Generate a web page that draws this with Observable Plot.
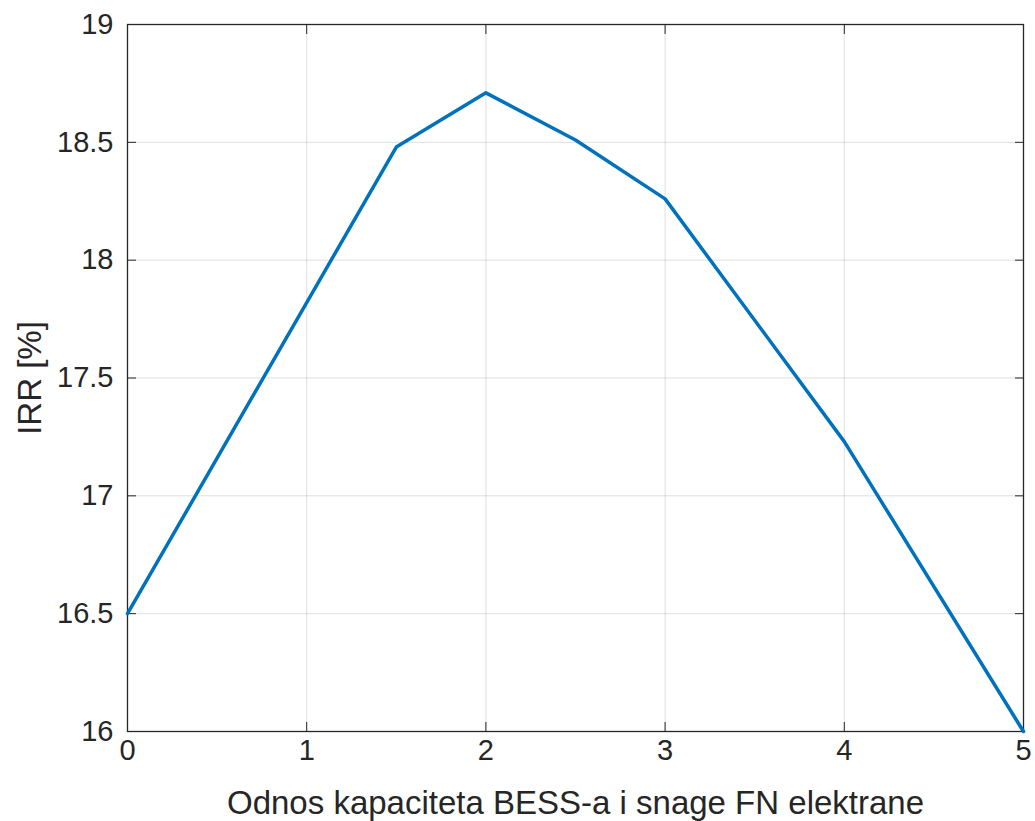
<!DOCTYPE html>
<html>
<head>
<meta charset="utf-8">
<script src="https://cdn.jsdelivr.net/npm/d3@7"></script>
<script src="https://cdn.jsdelivr.net/npm/@observablehq/plot@0.6"></script>
<style>
  html, body { margin: 0; padding: 0; background: #fff; }
  #chart svg { display: block; }
</style>
</head>
<body>
<div id="chart"></div>
<script>
// Data
const ratio = [0, 1, 1.5, 2, 2.5, 3, 4, 5];
const irr   = [16.5, 17.82, 18.48, 18.71, 18.51, 18.26, 17.23, 16.0];
const xTicks = [0, 1, 2, 3, 4, 5];
const yTicks = [16, 16.5, 17, 17.5, 18, 18.5, 19];
const xLabel = "Odnos kapaciteta BESS-a i snage FN elektrane";
const yLabel = "IRR [%]";

const data = ratio.map((r, i) => ({r, v: irr[i]}));
const textColor = "#262626";
const axisColor = "#262626";

const chart = Plot.plot({
  width: 1035,
  height: 821,
  marginLeft: 127,
  marginRight: 12,
  marginTop: 24,
  marginBottom: 90,
  style: {fontFamily: "'Liberation Sans', Arial, sans-serif", background: "#fff", color: textColor},
  x: {domain: [0, 5]},
  y: {domain: [16, 19]},
  marks: [
    Plot.gridX(xTicks, {stroke: "#000", strokeOpacity: 0.13, strokeWidth: 1}),
    Plot.gridY(yTicks, {stroke: "#000", strokeOpacity: 0.13, strokeWidth: 1}),
    // inward ticks on all four sides
    Plot.axisX(xTicks, {anchor: "bottom", tickSize: 9, dy: -9, text: null, stroke: axisColor, label: null}),
    Plot.axisX(xTicks, {anchor: "top", tickSize: 9, dy: 9, text: null, stroke: axisColor, label: null}),
    Plot.axisY(yTicks, {anchor: "left", tickSize: 9, dx: 9, text: null, stroke: axisColor, label: null}),
    Plot.axisY(yTicks, {anchor: "right", tickSize: 9, dx: -9, text: null, stroke: axisColor, label: null}),
    // tick labels
    Plot.axisX(xTicks, {anchor: "bottom", tickSize: 0, tickPadding: 8, fontSize: 29, fill: textColor,
      tickFormat: d => String(d),
      label: xLabel, labelAnchor: "center", labelArrow: "none", labelOffset: 82}),
    Plot.axisY(yTicks, {anchor: "left", tickSize: 0, tickPadding: 14, fontSize: 29, fill: textColor,
      tickFormat: d => String(d),
      label: yLabel, labelAnchor: "center", labelArrow: "none", labelOffset: 110}),
    Plot.frame({stroke: axisColor, strokeWidth: 1.3}),
    Plot.line(data, {x: "r", y: "v", stroke: "#0072BD", strokeWidth: 3.5})
  ]
});

// Enlarge axis titles
chart.querySelectorAll("g[aria-label='x-axis label'] text, g[aria-label='y-axis label'] text").forEach(t => {
  t.setAttribute("font-size", "33");
  t.style.fontSize = "33px";
  t.setAttribute("fill", textColor);
});
document.getElementById("chart").appendChild(chart);
</script>
</body>
</html>
